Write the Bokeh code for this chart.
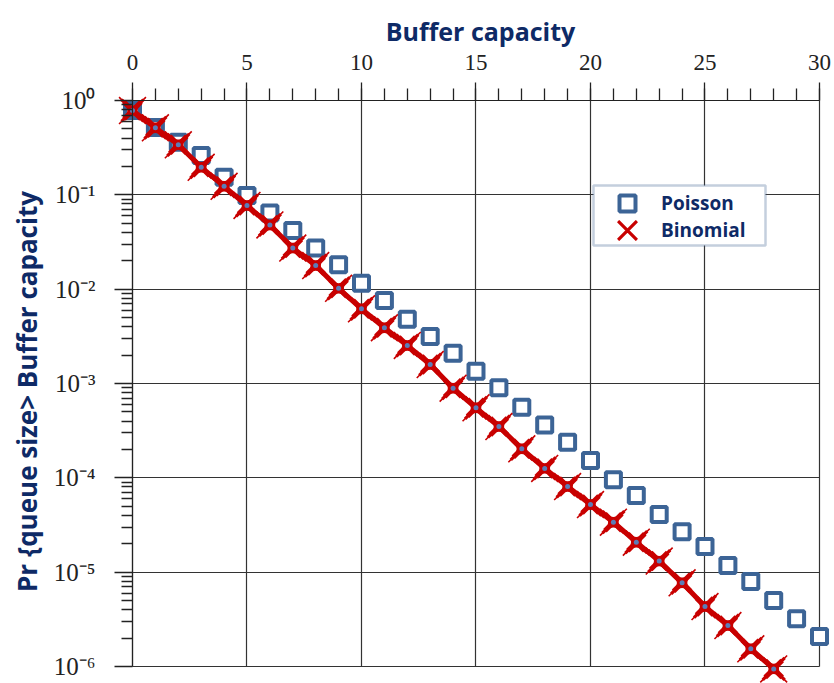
import math

from bokeh.plotting import figure
from bokeh.models import (Range1d, LogScale, LinearAxis, LogAxis, FixedTicker, Grid, BoxAnnotation,
                          CustomJSTickFormatter, Label, Legend, LegendItem, ColumnDataSource)
from bokeh.embed import file_html
from bokeh.resources import INLINE

# Buffer capacity (x) and overflow probabilities for each arrival model
buffer_capacity = list(range(31))
poisson = [0.783, 0.517, 0.361, 0.261, 0.154, 0.0984, 0.0642, 0.0419, 0.0274, 0.0182,
           0.01156, 0.00758, 0.00479, 0.00315, 0.00209, 0.00135, 0.000900, 0.000561,
           0.000363, 0.000239, 0.000153, 0.0000953, 0.0000650, 0.0000409, 0.0000268,
           0.0000187, 0.0000118, 0.00000796, 0.00000500, 0.00000320, 0.00000208]

binomial_capacity = list(range(29))
binomial = [0.783, 0.514, 0.339, 0.196, 0.123, 0.0771, 0.0479, 0.0273, 0.0178, 0.0102,
            0.00619, 0.00390, 0.00253, 0.00159, 0.000891, 0.000552, 0.000350, 0.000203,
            0.000126, 0.0000809, 0.0000521, 0.0000339, 0.0000208, 0.0000131, 0.00000771,
            0.00000432, 0.00000272, 0.00000154, 0.000000944]

x_major_ticks = [0, 5, 10, 15, 20, 25, 30]
x_minor_ticks = list(range(31))
y_major_ticks = [1e-6, 1e-5, 1e-4, 1e-3, 1e-2, 1e-1, 1.0]
y_minor_ticks = [m * 10.0 ** e for e in range(-6, 0) for m in range(2, 10)]

NAVY = "#0E2A66"
RED = "#C80000"
BLUE = "#3C6496"
INK = "#222222"
SANS = "Open Sans"

# The frame fills the whole canvas; axes sit at x=0 and y=1 inside it so
# that markers at the edges are never cut off.
p = figure(width=834, height=683, output_backend="svg", toolbar_location=None,
           x_axis_type=None, y_axis_type=None,
           min_border_left=0, min_border_right=0, min_border_top=0, min_border_bottom=0)
p.y_scale = LogScale()
p.x_range = Range1d(-5.764, 30.655)
p.y_range = Range1d(10 ** -6.180, 10 ** 1.060)
p.outline_line_color = None
p.background_fill_color = "white"
p.border_fill_color = "white"

tick_font = "Liberation Serif"

xaxis = LinearAxis(fixed_location=1.0, bounds=(0, 30),
                   ticker=FixedTicker(ticks=x_major_ticks, minor_ticks=x_minor_ticks))
yaxis = LogAxis(fixed_location=0, bounds=(1e-6, 1.0),
                ticker=FixedTicker(ticks=y_major_ticks, minor_ticks=y_minor_ticks),
                formatter=CustomJSTickFormatter(code="""
                    const sup = {"0":"\u2070","1":"\u00b9","2":"\u00b2","3":"\u00b3","4":"\u2074",
                                 "5":"\u2075","6":"\u2076","7":"\u2077","8":"\u2078","9":"\u2079","-":"\u207b"};
                    const e = Math.round(Math.log10(tick));
                    return "10" + String(e).split("").map(c => sup[c]).join("");
                """))

for ax in (xaxis, yaxis):
    ax.axis_line_color = INK
    ax.axis_line_width = 1.2
    ax.major_tick_line_color = INK
    ax.minor_tick_line_color = INK
    ax.major_tick_line_width = 1.3
    ax.minor_tick_line_width = 1.3
    ax.major_tick_in = 0
    ax.minor_tick_in = 0
    ax.major_tick_out = 18
    ax.major_label_text_font = tick_font
    ax.major_label_text_color = INK

xaxis.minor_tick_out = 12
xaxis.major_label_text_font_size = "23px"
xaxis.major_label_standoff = 12
yaxis.minor_tick_out = 11
yaxis.major_label_text_font_size = "25px"
yaxis.major_label_standoff = 19

p.add_layout(xaxis, "above")
p.add_layout(yaxis, "left")

p.add_layout(Grid(dimension=0, axis=xaxis, ticker=xaxis.ticker, cross_bounds=(1e-6, 1.0),
                  grid_line_color="#333333", grid_line_width=1.2), "center")
p.add_layout(Grid(dimension=1, axis=yaxis, ticker=yaxis.ticker, cross_bounds=(0, 30),
                  grid_line_color="#333333", grid_line_width=1.2), "center")

pois_src = ColumnDataSource(data=dict(x=buffer_capacity, y=poisson))
bino_src = ColumnDataSource(data=dict(x=binomial_capacity, y=binomial))

r_pois = p.scatter("x", "y", source=pois_src, marker="square", size=15,
                   fill_color="white", line_color=BLUE, line_width=4)
p.line("x", "y", source=bino_src, line_color=RED, line_width=5)

# Four-pointed stars: stacked diagonal crosses that get thinner towards the tips
star_arms = []
for size, width in [(38, 1.6), (31, 3.2), (24, 5.0)]:
    star_arms.append(p.scatter("x", "y", source=bino_src, marker="x", size=size,
                               line_color=RED, line_width=width))
p.scatter("x", "y", source=bino_src, marker="square_pin", size=13,
          fill_color=RED, line_color=RED, line_width=1.5)
p.scatter("x", "y", source=bino_src, marker="circle", size=5,
          fill_color="#5B7DB8", line_color=None)

# Legend: white box with a blue frame, one entry per series
p.add_layout(BoxAnnotation(left=593, right=765, top=498, bottom=438,
                           left_units="screen", right_units="screen",
                           top_units="screen", bottom_units="screen",
                           fill_color="white", fill_alpha=1.0,
                           line_color="#3A6190", line_width=2.5))

common = dict(padding=0, spacing=0, margin=0, glyph_width=68, label_standoff=0,
              label_width=104, label_text_font=SANS, label_text_font_style="bold",
              label_text_font_size="19px", label_text_color=NAVY,
              border_line_color=None, background_fill_alpha=0.0)
p.add_layout(Legend(items=[LegendItem(label="Poisson", renderers=[r_pois])],
                    location=(593, 460), glyph_height=40, **common), "center")
p.add_layout(Legend(items=[LegendItem(label="Binomial", renderers=star_arms[:2])],
                    location=(593, 420), glyph_height=66, **common), "center")

p.add_layout(Label(x=480, y=653, x_units="screen", y_units="screen",
                   text="Buffer capacity", text_align="center", text_baseline="alphabetic",
                   text_font=SANS, text_font_style="bold", text_font_size="25px",
                   text_color=NAVY))
p.add_layout(Label(x=26, y=292, x_units="screen", y_units="screen", angle=math.pi / 2,
                   text="Pr {queue size> Buffer capacity", text_align="center",
                   text_baseline="middle", text_font=SANS, text_font_style="bold",
                   text_font_size="26px", text_color=NAVY))

open("out.html", "w").write(file_html(p, INLINE))
